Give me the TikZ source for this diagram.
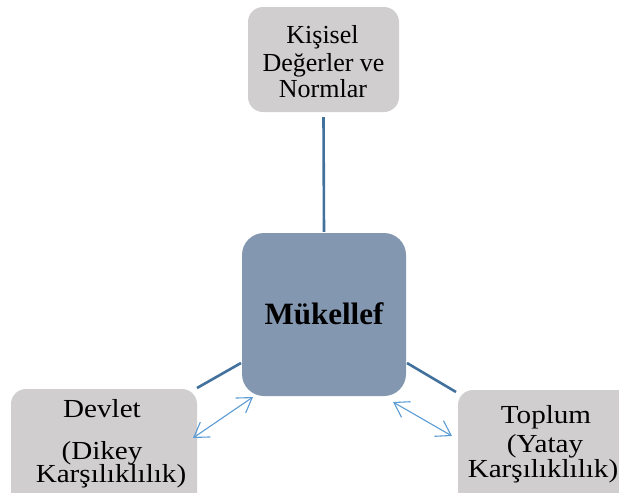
\documentclass[tikz,border=0pt]{standalone}
\usepackage{fontspec}
\setmainfont{Liberation Serif}
\newfontfamily\boxfont[FakeStretch=1.12]{Liberation Serif}
\usetikzlibrary{arrows.meta}
\definecolor{boxgray}{HTML}{D0CECE}
\definecolor{midblue}{HTML}{8497B0}
\definecolor{linkblue}{HTML}{41719C}
\definecolor{arrblue}{HTML}{5B9BD5}
\tikzset{
  graybox/.style={fill=boxgray, draw=none, rounded corners=15pt, inner sep=0pt},
  midbox/.style={fill=midblue, draw=none, rounded corners=22pt, inner sep=0pt},
  toptext/.style={anchor=base, inner sep=0pt, font=\fontsize{26}{28}\selectfont},
  bottext/.style={anchor=base, inner sep=0pt, font=\boxfont\fontsize{26}{28}\selectfont},
  link/.style={draw=linkblue, line width=2.6pt},
  duo/.style={draw=arrblue, line width=1.1pt, {Straight Barb[length=14pt,width=18pt]}-{Straight Barb[length=14pt,width=18pt]}}
}
\begin{document}
\begin{tikzpicture}[x=1pt, y=-1pt]
\useasboundingbox (0,0) rectangle (619,493);
\clip (0,0) rectangle (619,493);
% boxes
\node[graybox, minimum width=151pt, minimum height=105pt] (top) at (323.5,59.5) {};
\node[midbox, minimum width=164pt, minimum height=163pt] (mid) at (324,314.5) {};
\node[graybox, minimum width=186pt, minimum height=140pt] (left) at (104,459) {};
\node[graybox, minimum width=190pt, minimum height=140pt] (right) at (553,460) {};
% texts
\node[toptext] (t1) at (322.5,43) {Kişisel};
\node[toptext] (t2) at (323.5,71.5) {Değerler ve};
\node[toptext] (t3) at (323,97.5) {Normlar};
\node[anchor=base, inner sep=0pt, font=\bfseries\fontsize{31}{33}\selectfont] (m) at (324,324) {Mükellef};
\node[bottext] (l1) at (102,417) {Devlet};
\node[bottext] (l2) at (102,459) {(Dikey};
\node[bottext] (l3) at (111,482) {Karşılıklılık)};
\node[bottext] (r1) at (546,423) {Toplum};
\node[bottext] (r2) at (545,452) {(Yatay};
\node[bottext] (r3) at (543,477) {Karşılıklılık)};
% connectors
\coordinate (la) at (197,388);
\coordinate (lb) at (241,363);
\coordinate (ra) at (407,363);
\coordinate (rb) at (456,392);
\coordinate (lc) at (193,438);
\coordinate (ld) at (253,397);
\coordinate (rc) at (393,402);
\coordinate (rd) at (452,436);
\draw[link] ([yshift=-5pt]top.south) -- ([yshift=1pt]mid.north);
\draw[link] (la) -- (lb);
\draw[link] (ra) -- (rb);
\draw[duo] (lc) -- (ld);
\draw[duo] (rc) -- (rd);
\end{tikzpicture}
\end{document}
